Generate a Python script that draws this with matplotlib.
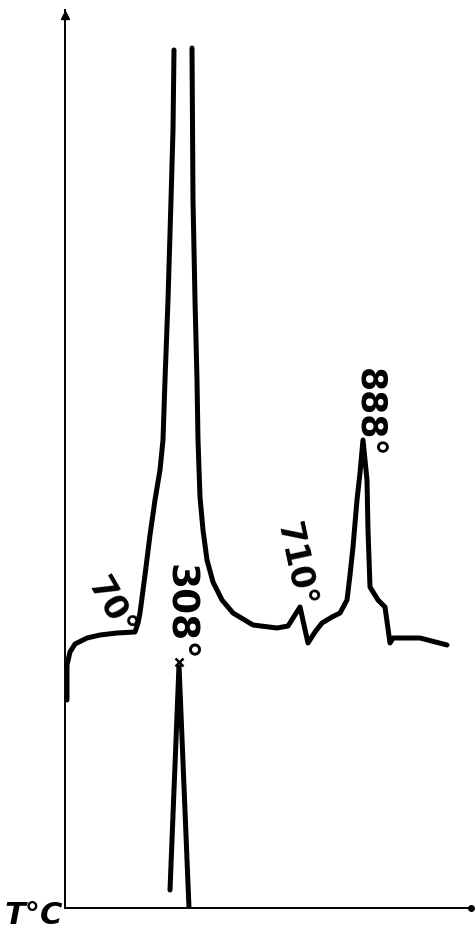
import matplotlib.pyplot as plt
import numpy as np

# DTA trace (x: arbitrary temperature scale, y: signal)
# left flank of the big peak, goes off the top of the chart
left_x = [2, 2, 5, 10, 22, 35, 52, 70, 73, 75, 80, 85, 90, 95, 98, 100, 103, 106, 108, 109]
left_y = [208, 243, 256, 264, 270, 273, 275, 276, 285, 295, 333, 373, 408, 438, 468, 528, 608, 708, 778, 858]

# right flank and the rest of the trace
right_x = [127, 128, 130, 132, 133, 135, 138, 142, 148, 157, 168, 188, 212, 223, 235, 239, 243,
           250, 257, 267, 275, 282, 285, 288, 292, 295, 298, 301, 302, 303, 305, 313, 320,
           325, 328, 355, 382]
right_y = [860, 708, 608, 528, 468, 411, 378, 348, 326, 308, 295, 283, 280, 282, 301, 283, 265,
           276, 285, 291, 295, 308, 333, 361, 408, 435, 468, 438, 428, 378, 321, 308, 301,
           265, 270, 270, 263]

# the downward (endothermic) peak at 308
low_x = [105, 114, 124]
low_y = [18, 243, 0]

labels = ['70°', '308°', '710°', '888°']
label_x = [46, 115, 230, 303]
label_y = [300, 296, 343, 495]
label_rot = [-60, -90, -78, -90]
label_size = [24, 27, 24, 25]

fig = plt.figure(figsize=(4.75, 9.4), dpi=100)
ax = fig.add_axes([65 / 475, 32 / 940, 406 / 475, 898 / 940])
ax.set_xlim(0, 406)
ax.set_ylim(0, 898)

for s in ['top', 'right']:
    ax.spines[s].set_visible(False)
for s in ['left', 'bottom']:
    ax.spines[s].set_linewidth(1.4)
ax.set_xticks([])
ax.set_yticks([])

lw = 3.6
ax.plot(left_x, left_y, color='black', lw=lw, solid_capstyle='round', solid_joinstyle='round')
ax.plot(right_x, right_y, color='black', lw=lw, solid_capstyle='round', solid_joinstyle='round')
ax.plot(low_x, low_y, color='black', lw=lw, solid_capstyle='round', solid_joinstyle='miter')
ax.plot(low_x[1], low_y[1] + 3, marker='x', color='black', ms=6, mew=1.8, clip_on=False)

# arrow tip on the y axis and the dot at the end of x axis
ax.plot(0, 893, marker='^', color='black', ms=6, clip_on=False)
ax.plot(406, 0, marker='o', color='black', ms=4, clip_on=False)

for t, x, y, r, fs in zip(labels, label_x, label_y, label_rot, label_size):
    ax.text(x, y, t, rotation=r, fontsize=fs, fontweight='bold', ha='center', va='center',
            rotation_mode='anchor', clip_on=False)

ax.text(-31, -8, 'T°C', fontsize=22, fontweight='bold', fontstyle='italic',
        ha='center', va='center', clip_on=False)

fig.savefig('out.png', dpi=100)
